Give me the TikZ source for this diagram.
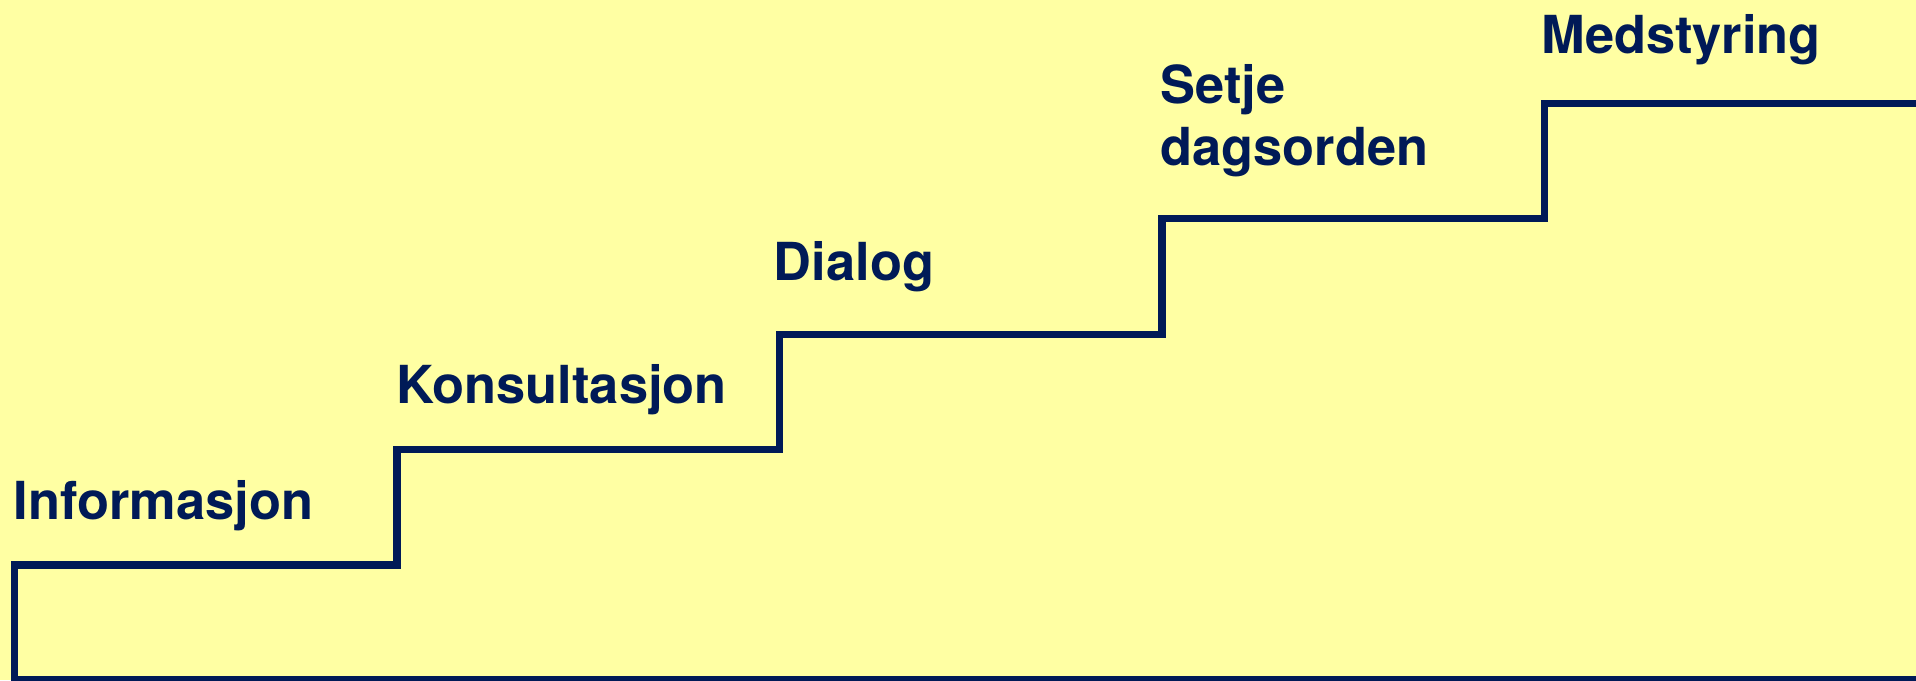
\documentclass[tikz,border=0pt]{standalone}
\usepackage{fontspec}
\usepackage{tkz-euclide}
\newfontfamily\stepfont{TeX Gyre Heros}
\definecolor{stairnavy}{HTML}{001A57}
\definecolor{stairyellow}{HTML}{FFFFA3}
\tikzset{>=stealth,
  stairlabel/.style={anchor=base west, inner sep=0pt, text=stairnavy,
    font=\stepfont\bfseries\fontsize{26.2pt}{30.9pt}\selectfont, align=left}}

\begin{document}
\begin{tikzpicture}[x=0.5pt,y=-0.5pt]
    \useasboundingbox[fill=stairyellow] (0,0) rectangle (1916,680);
    \clip (0,0) rectangle (1916,680);
    \tkzDefPoints{1930/680/Z, 14.5/680/A, 14.5/565/B, 397/565/C, 397/449.7/D,
      779.7/449.7/E, 779.7/334.7/F, 1162/334.7/G, 1162/218.3/H,
      1544.5/218.3/I, 1544.5/103.7/J, 1930/103.7/K}
    \tkzDrawPolySeg[line width=3.65pt, color=stairnavy, miter limit=10](Z,A,B,C,D,E,F,G,H,I,J,K)
    \node[stairlabel] (info) at (13.3,519.3) {Informasjon};
    \node[stairlabel] (kons) at (396,403.3) {Konsultasjon};
    \node[stairlabel] (dial) at (773.5,280.7) {Dialog};
    \node[stairlabel] (dags) at (1160,165) {Setje\\dagsorden};
    \node[stairlabel] (med) at (1541,53.3) {Medstyring};
\end{tikzpicture}
\end{document}
